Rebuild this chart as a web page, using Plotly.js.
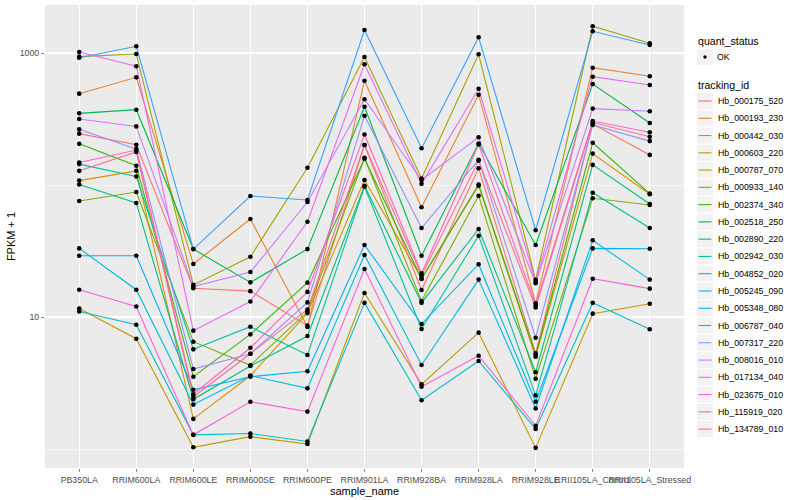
<!DOCTYPE html>
<html>
<head>
<meta charset="utf-8">
<script src="https://cdn.plot.ly/plotly-3.0.1.min.js"></script>
<style>
html,body{margin:0;padding:0;background:#ffffff;}
#chart{width:800px;height:500px;}
</style>
</head>
<body>
<div id="chart"></div>
<script>
// ---------- data (FPKM + 1) ----------
const sampleNames = ["PB350LA","RRIM600LA","RRIM600LE","RRIM600SE","RRIM600PE","RRIM901LA",
  "RRIM928BA","RRIM928LA","RRIM928LE","RRII105LA_Control","RRII105LA_Stressed"];

const trackingIds = ["Hb_000175_520","Hb_000193_230","Hb_000442_030","Hb_000603_220","Hb_000787_070",
  "Hb_000933_140","Hb_002374_340","Hb_002518_250","Hb_002890_220","Hb_002942_030","Hb_004852_020",
  "Hb_005245_090","Hb_005348_080","Hb_006787_040","Hb_007317_220","Hb_008016_010","Hb_017134_040",
  "Hb_023675_010","Hb_115919_020","Hb_134789_010"];

const quantStatus = ["OK"];

const Hb_000175_520 = [245, 202, 16.5, 15.7, 8.6, 201, 16.0, 134, 5.3, 290, 169];
const Hb_000193_230 = [492, 654, 25.2, 55.3, 8.4, 617, 67.8, 483, 12.7, 774, 666];
const Hb_000442_030 = [108, 128, 1.69, 3.59, 10.7, 109, 19.6, 98.8, 5.0, 173, 85];
const Hb_000603_220 = [11.6, 6.85, 1.03, 1.24, 1.09, 15.2, 3.09, 7.61, 1.02, 10.6, 12.6];
const Hb_000787_070 = [938, 983, 17.5, 28.6, 135, 933, 112, 978, 19.1, 1594, 1184];
const Hb_000933_140 = [75.6, 88.5, 6.5, 4.31, 11.0, 161, 13.2, 83, 3.41, 79.3, 70.5];
const Hb_002374_340 = [205, 140, 3.53, 7.39, 18.2, 158, 19.4, 101, 5.15, 209, 86];
const Hb_002518_250 = [349, 372, 32.7, 18.3, 32.7, 392, 29.1, 206, 35.1, 582, 295];
const Hb_002890_220 = [101, 73.1, 2.38, 4.25, 7.18, 98.8, 12.8, 46.4, 3.81, 142, 71.8];
const Hb_002942_030 = [144, 116, 5.69, 8.44, 5.15, 97.1, 8.11, 41.3, 2.55, 87.4, 47.2];
const Hb_004852_020 = [11.0, 8.74, 1.28, 1.31, 1.14, 12.8, 2.34, 4.64, 1.42, 12.8, 8.07];
const Hb_005245_090 = [33.1, 16.1, 2.17, 3.59, 2.88, 29.5, 4.33, 19.2, 2.03, 38.1, 19.2];
const Hb_005348_080 = [29.1, 29.1, 2.81, 3.53, 3.88, 35.1, 8.85, 25.1, 2.28, 33.1, 32.9];
const Hb_006787_040 = [921, 1124, 32.7, 82.5, 77.0, 1494, 190, 1315, 45.4, 1460, 1150];
const Hb_007317_220 = [264, 187, 4.04, 5.27, 12.9, 335, 47.2, 155, 6.97, 285, 215];
const Hb_008016_010 = [316, 278, 17.0, 21.9, 74.3, 446, 109, 230, 18.0, 379, 362];
const Hb_017134_040 = [1018, 793, 7.88, 13.1, 52.7, 821, 102, 536, 18.5, 661, 572];
const Hb_023675_010 = [16.1, 12.0, 1.28, 2.28, 1.92, 23.1, 2.96, 5.09, 1.50, 19.5, 16.4];
const Hb_115919_020 = [148, 184, 2.60, 5.85, 15.5, 241, 21.4, 203, 12.3, 305, 251];
const Hb_134789_010 = [128, 178, 2.49, 5.27, 11.4, 201, 20.6, 153, 11.8, 297, 232];

const seriesValues = [Hb_000175_520, Hb_000193_230, Hb_000442_030, Hb_000603_220, Hb_000787_070,
  Hb_000933_140, Hb_002374_340, Hb_002518_250, Hb_002890_220, Hb_002942_030, Hb_004852_020,
  Hb_005245_090, Hb_005348_080, Hb_006787_040, Hb_007317_220, Hb_008016_010, Hb_017134_040,
  Hb_023675_010, Hb_115919_020, Hb_134789_010];

const yTickVals = [10, 1000];
const yTickText = ["10", "1000"];
const yMinorVals = [1, 100];

// ---------- styling ----------
const palette = ["#F8766D","#EA8331","#D89000","#C09B00","#A3A500","#7CAE00","#39B600","#00BB4E",
  "#00BF7D","#00C1A3","#00BFC4","#00BAE0","#00B0F6","#35A2FF","#9590FF","#C77CFF","#E76BF3",
  "#FA62DB","#FF62BC","#FF6C91"];

const FONT = "Liberation Sans, Arial, Helvetica, sans-serif";
const PL = 45, PR = 684, PT = 5, PB = 468;   // panel box in pixels
const W = 800, H = 500;
const px = x => (x - PL) / (PR - PL);
const py = y => (PB - y) / (PB - PT);

const traces = [];
trackingIds.forEach((id, i) => {
  traces.push({
    type: "scatter", mode: "lines", name: id,
    x: sampleNames, y: seriesValues[i],
    line: {color: palette[i], width: 1.1},
    showlegend: false, hoverinfo: "x+y+name"
  });
});
// all points drawn on top (quant_status = OK)
const allX = [], allY = [];
seriesValues.forEach(vals => vals.forEach((v, j) => { allX.push(sampleNames[j]); allY.push(v); }));
traces.push({
  type: "scatter", mode: "markers", name: quantStatus[0],
  x: allX, y: allY,
  marker: {color: "#000000", size: 4.6},
  showlegend: false, hoverinfo: "x+y"
});

// ---------- hand-made ggplot-style legend ----------
const shapes = [], annotations = [];
const keyL = 697, keyR = 713, keyH = 16;
annotations.push({xref: "paper", yref: "paper", x: px(696), y: py(41), xanchor: "left", yanchor: "middle",
  text: "quant_status", showarrow: false, font: {family: FONT, size: 10.6, color: "#000"}});
shapes.push({type: "rect", xref: "paper", yref: "paper", x0: px(keyL), x1: px(keyR), y0: py(49), y1: py(65),
  fillcolor: "#F2F2F2", line: {width: 0}, layer: "above"});
shapes.push({type: "circle", xref: "paper", yref: "paper", x0: px(703.3), x1: px(706.7), y0: py(55.3), y1: py(58.7),
  fillcolor: "#000", line: {width: 0}, layer: "above"});
annotations.push({xref: "paper", yref: "paper", x: px(715), y: py(57), xanchor: "left", yanchor: "middle",
  text: quantStatus[0], showarrow: false, font: {family: FONT, size: 8.8, color: "#000"}});

annotations.push({xref: "paper", yref: "paper", x: px(696), y: py(85), xanchor: "left", yanchor: "middle",
  text: "tracking_id", showarrow: false, font: {family: FONT, size: 10.6, color: "#000"}});
trackingIds.forEach((id, i) => {
  const cy = 101 + 17.27 * i;
  shapes.push({type: "rect", xref: "paper", yref: "paper", x0: px(keyL), x1: px(keyR),
    y0: py(cy - keyH / 2), y1: py(cy + keyH / 2), fillcolor: "#F2F2F2", line: {width: 0}, layer: "above"});
  shapes.push({type: "line", xref: "paper", yref: "paper", x0: px(698.5), x1: px(711.5), y0: py(cy), y1: py(cy),
    line: {color: palette[i], width: 1.1}, layer: "above"});
  annotations.push({xref: "paper", yref: "paper", x: px(715.5), y: py(cy), xanchor: "left", yanchor: "middle",
    text: id, showarrow: false, font: {family: FONT, size: 8.8, color: "#000"}});
});

const layout = {
  width: W, height: H,
  margin: {l: PL, r: W - PR, t: PT, b: H - PB, pad: 0},
  paper_bgcolor: "#FFFFFF", plot_bgcolor: "#EBEBEB",
  font: {family: FONT, size: 8.8, color: "#4D4D4D"},
  showlegend: false,
  hovermode: "closest",
  xaxis: {
    type: "category", categoryorder: "array", categoryarray: sampleNames,
    range: [-0.6, sampleNames.length - 0.4],
    showgrid: true, gridcolor: "#FFFFFF", gridwidth: 1.1,
    zeroline: false, showline: false,
    ticks: "outside", ticklen: 3, tickwidth: 0.6, tickcolor: "#333333",
    tickfont: {family: FONT, size: 8.8, color: "#4D4D4D"},
    tickangle: 0,
    title: {text: "sample_name", font: {family: FONT, size: 11, color: "#000"}, standoff: 0}
  },
  yaxis: {
    type: "log",
    range: [-0.1439, 3.3636],
    tickmode: "array", tickvals: yTickVals, ticktext: yTickText,
    showgrid: true, gridcolor: "#FFFFFF", gridwidth: 1.1,
    minor: {tickmode: "array", tickvals: yMinorVals, showgrid: true, gridcolor: "#FFFFFF", gridwidth: 0.55, ticks: ""},
    zeroline: false, showline: false,
    ticks: "outside", ticklen: 3, tickwidth: 0.6, tickcolor: "#333333",
    tickfont: {family: FONT, size: 8.8, color: "#4D4D4D"},
    title: {text: "FPKM + 1", font: {family: FONT, size: 11, color: "#000"}, standoff: 1}
  },
  shapes: shapes,
  annotations: annotations
};

Plotly.newPlot("chart", traces, layout, {displayModeBar: false, staticPlot: true});
</script>
</body>
</html>
